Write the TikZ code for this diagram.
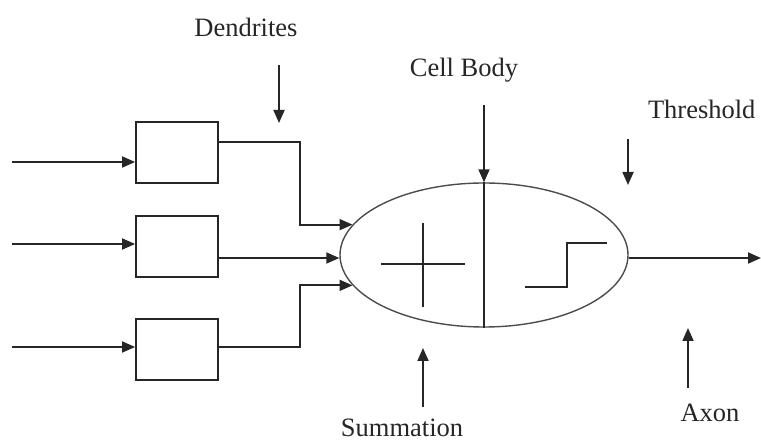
\documentclass[tikz,border=0pt]{standalone}
\usepackage{fontspec}
\setmainfont{Liberation Serif}
\usetikzlibrary{arrows.meta, shapes.geometric}

\begin{document}
\begin{tikzpicture}[x=1pt, y=-1pt,
  wire/.style={line width=1.8pt, draw=black!85},
  tip/.style={-{Triangle[length=13pt,width=11pt]}},
  synapse/.style={rectangle, draw=black!85, line width=1.8pt, minimum width=82pt, minimum height=61pt, inner sep=0pt},
  body/.style={ellipse, draw=black!70, line width=1.4pt, minimum width=288pt, minimum height=144pt, inner sep=0pt},
  lbl/.style={font=\fontsize{26.5}{31}\selectfont, text=black!85, anchor=base}]
  \useasboundingbox (0,0) rectangle (761,443);
\node[synapse] (B1) at (177,152.5) {};
\node[synapse] (B2) at (177,246.5) {};
\node[synapse] (B3) at (177,349.5) {};
\node[body] (cell) at (484,255) {};

\coordinate (I1) at (12,162);
\coordinate (I2) at (12,244);
\coordinate (I3) at (12,347);
\draw[wire,tip] (I1) -- (I1 -| B1.west);
\draw[wire,tip] (I2) -- (I2 -| B2.west);
\draw[wire,tip] (I3) -- (I3 -| B3.west);

\draw[wire,tip] (B1.east |- 0,142) -| (300,0 |- cell.167) -- (cell.167);
\draw[wire,tip] (B2.east |- 0,258) -- (cell.west |- 0,258);
\draw[wire,tip] (B3.east |- 0,347) -| (300,0 |- cell.193) -- (cell.193);

\coordinate (CB) at (484,105);
\draw[wire,tip] (CB) -- (cell.north);
\draw[wire] (cell.north) -- (cell.south);
\draw[wire] (381,264) -- (465,264) (423,223) -- (423,307);
\draw[wire] (525,287) -| (567,243) -- (607,243);
\coordinate (out) at (761,258);
\draw[wire,tip] (cell.east |- out) -- (out);

\coordinate (D0) at (279,65);   \coordinate (D1) at (279,123);
\coordinate (T0) at (628,139);  \coordinate (T1) at (628,185);
\coordinate (S0) at (423,407);  \coordinate (S1) at (423,348);
\coordinate (A0) at (688,388);  \coordinate (A1) at (688,328);
\draw[wire,tip] (D0) -- (D1);
\draw[wire,tip] (T0) -- (T1);
\draw[wire,tip] (S0) -- (S1);
\draw[wire,tip] (A0) -- (A1);

\node[lbl] (dend) at (246,37) {Dendrites};
\node[lbl] (body) at (464,77) {Cell Body};
\node[lbl, anchor=base east] (thr) at (759,119) {Threshold};
\node[lbl] (sum) at (402,437) {Summation};
\node[lbl] (axon) at (710,422) {Axon};
\end{tikzpicture}
\end{document}
